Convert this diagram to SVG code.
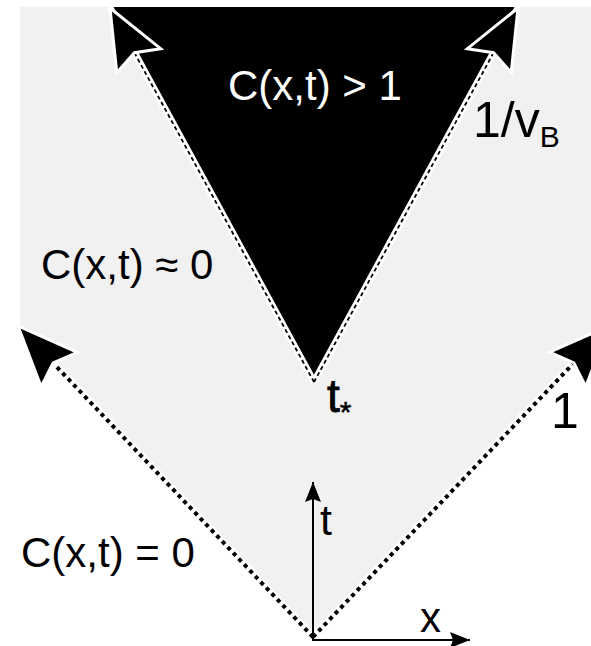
<svg xmlns="http://www.w3.org/2000/svg" width="591" height="646" viewBox="0 0 591 646">
  <style>
    .lbl { font-family: "Liberation Sans", Arial, sans-serif; fill: #000; }
    .halo { stroke: #fff; fill: none; stroke-linecap: butt; }
    .dots { stroke: #000; fill: none; stroke-width: 4; stroke-dasharray: 4 4; }
    .dash { stroke: #000; fill: none; stroke-width: 1.8; stroke-dasharray: 4 3; }
    .axis { stroke: #000; fill: none; stroke-width: 2; }
  </style>
  <defs>
    <marker id="ah" markerUnits="userSpaceOnUse" orient="auto" refX="0" refY="0" markerWidth="80" markerHeight="64" viewBox="-70 -32 80 64" overflow="visible">
      <path d="M0,0 L-60,-25 L-51,0 L-60,25 Z" fill="#000" stroke="#fff" stroke-width="3"/>
    </marker>
    <marker id="ax" markerUnits="userSpaceOnUse" orient="auto" refX="0" refY="0" markerWidth="24" markerHeight="20" viewBox="-22 -10 24 20" overflow="visible">
      <path d="M0,0 L-20,-8 L-17,0 L-20,8 Z" fill="#000"/>
    </marker>
  </defs>

  <g id="region-gray">
    <polygon points="20,7 591,7 591,344 313,637 20,328" fill="#f1f1f1"/>
  </g>
  <g id="region-black">
    <polygon points="110,7 518,7 314,380" fill="#000"/>
  </g>

  <g id="connectors">
    <!-- outer dotted light-cone lines -->
    <line class="halo" x1="313" y1="637" x2="18" y2="326" stroke-width="8"/>
    <line class="halo" x1="313" y1="637" x2="609" y2="326" stroke-width="8"/>
    <line class="dots" x1="313" y1="637" x2="18" y2="326" marker-end="url(#ah)"/>
    <line class="dots" x1="313" y1="637" x2="609" y2="326" marker-end="url(#ah)"/>
    <!-- inner dashed butterfly-cone lines -->
    <line class="halo" x1="314" y1="382" x2="110" y2="8" stroke-width="7"/>
    <line class="halo" x1="314" y1="382" x2="518" y2="8" stroke-width="7"/>
    <line class="dash" x1="314" y1="382" x2="110" y2="8" marker-end="url(#ah)"/>
    <line class="dash" x1="314" y1="382" x2="518" y2="8" marker-end="url(#ah)"/>
    <!-- axes -->
    <line class="axis" x1="313" y1="641" x2="313" y2="482" marker-end="url(#ax)"/>
    <line class="axis" x1="312" y1="640" x2="470" y2="640" marker-end="url(#ax)"/>
  </g>

  <g id="label-inside">
    <text class="lbl" x="228" y="100" font-size="42" style="fill:#fff">C(x,t) &gt; 1</text>
  </g>
  <g id="label-vb">
    <text class="lbl" x="473" y="137" font-size="50">1/v<tspan font-size="30" dy="10">B</tspan></text>
  </g>
  <g id="label-approx">
    <text class="lbl" x="41" y="279" font-size="42">C(x,t) ≈ 0</text>
  </g>
  <g id="label-tstar">
    <text class="lbl" x="327" y="412" font-size="46" stroke="#000" stroke-width="0.8">t<tspan font-size="30" dy="10" stroke-width="0.5">*</tspan></text>
  </g>
  <g id="label-one">
    <text class="lbl" x="551" y="428" font-size="50">1</text>
  </g>
  <g id="label-t">
    <text class="lbl" x="320" y="535" font-size="43">t</text>
  </g>
  <g id="label-zero">
    <text class="lbl" x="21" y="567" font-size="42">C(x,t) = 0</text>
  </g>
  <g id="label-x">
    <text class="lbl" x="420" y="632" font-size="42">x</text>
  </g>
</svg>
